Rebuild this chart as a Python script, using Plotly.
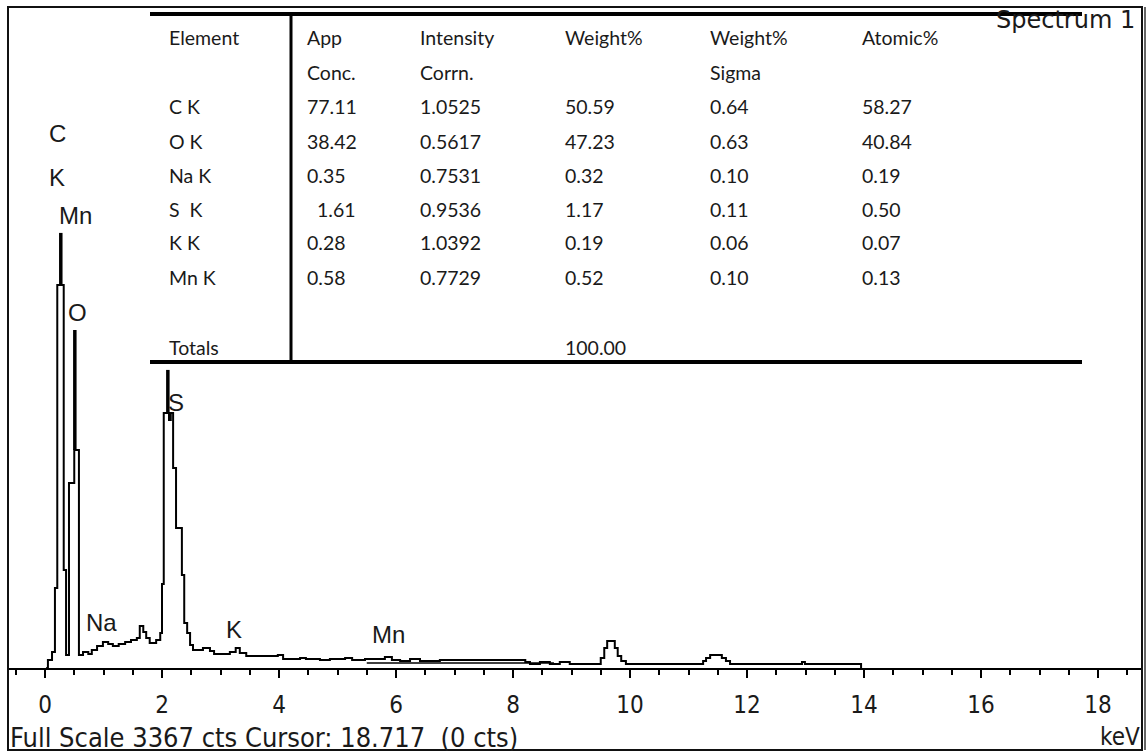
import plotly.graph_objects as go

W, H = 1147, 756

# ---------------- spectrum data (keV, counts) ----------------
energy_kev = [0.02, 0.05, 0.12, 0.17, 0.21, 0.32, 0.36, 0.41, 0.50, 0.58,
              0.65, 0.74, 0.80, 0.89, 0.99, 1.08, 1.16, 1.26, 1.37, 1.47,
              1.57, 1.62, 1.68, 1.73, 1.79, 1.90, 1.97, 2.00, 2.03, 2.12,
              2.15, 2.19, 2.24, 2.34, 2.38, 2.43, 2.48, 2.53, 2.70, 2.82,
              2.89, 3.16, 3.26, 3.33, 3.44, 3.61, 3.98, 4.07, 4.36, 4.46,
              4.70, 4.87, 5.13, 5.25, 5.47, 5.81, 5.93, 6.07, 6.24, 6.41,
              6.75, 7.44, 8.21, 8.29, 8.46, 8.63, 8.80, 8.97, 9.45, 9.50,
              9.56, 9.61, 9.69, 9.74, 9.79, 9.85, 9.93, 11.20, 11.25, 11.30,
              11.37, 11.50, 11.57, 11.64, 11.71, 12.91, 12.94, 12.99, 13.93, 13.95]
counts = [0, 41, 82, 409, 1957, 501, 66, 945, 1114, 66,
          82, 72, 92, 112, 133, 123, 112, 123, 133, 143,
          153, 215, 184, 153, 128, 143, 179, 429, 1303, 1267,
          1303, 1022, 715, 475, 230, 179, 118, 92, 102, 87,
          72, 82, 102, 77, 61, 61, 66, 46, 51, 46,
          41, 46, 51, 41, 46, 56, 41, 36, 46, 36,
          41, 41, 31, 20, 31, 20, 31, 20, 20, 51,
          102, 138, 138, 102, 61, 36, 20, 20, 36, 51,
          66, 66, 51, 36, 20, 20, 31, 20, 20, 0]

# lower (background) line drawn under the spectrum between ~5.5 and 8.7 keV
bg_kev = [5.50, 8.70]
bg_counts = [26, 26]

# element line markers (keV, base counts, top counts)
marker_kev = [0.27, 0.51, 2.10]
marker_base = [1957, 1114, 1303]
marker_top = [2223, 1727, 1523]

# peak labels (text, keV of left edge, counts)
peak_labels = ["C", "K", "Mn", "O", "S", "Na", "K", "Mn"]
peak_label_kev = [0.03, 0.03, 0.21, 0.36, 2.07, 0.67, 3.06, 5.56]
peak_label_cts = [2729, 2504, 2310, 1814, 1359, 235, 199, 169]

# ---------------- quantification table ----------------
table_header1 = ["Element", "App", "Intensity", "Weight%", "Weight%", "Atomic%"]
table_header2 = ["", "Conc.", "Corrn.", "", "Sigma", ""]
elements = ["C K", "O K", "Na K", "S  K", "K K", "Mn K"]
app_conc = ["77.11", "38.42", "0.35", "  1.61", "0.28", "0.58"]
intensity_corrn = ["1.0525", "0.5617", "0.7531", "0.9536", "1.0392", "0.7729"]
weight_pct = ["50.59", "47.23", "0.32", "1.17", "0.19", "0.52"]
weight_sigma = ["0.64", "0.63", "0.10", "0.11", "0.06", "0.10"]
atomic_pct = ["58.27", "40.84", "0.19", "0.50", "0.07", "0.13"]
totals_label = "Totals"
totals_value = "100.00"

X0_PX, X_PER_KEV = 45.0, 58.5
Y_AXIS_PX, Y_TOP_PX = 668, 9
FULL_SCALE = 3367


def px_x(px):
    return px / W


def px_y(py):
    return 1 - py / H


fig = go.Figure()

fig.add_trace(go.Scatter(x=bg_kev, y=bg_counts, mode="lines",
                         line=dict(color="black", width=1.5),
                         hoverinfo="skip", showlegend=False))
fig.add_trace(go.Scatter(x=energy_kev, y=counts, mode="lines",
                         line=dict(color="black", width=2, shape="hv"),
                         hoverinfo="skip", showlegend=False))
for k, b, t in zip(marker_kev, marker_base, marker_top):
    fig.add_trace(go.Scatter(x=[k, k], y=[b, t], mode="lines",
                             line=dict(color="black", width=3.5),
                             hoverinfo="skip", showlegend=False))

label_font = dict(family="Liberation Sans, Arial, sans-serif", size=24, color="#1a1a1a")
annotations = []
for txt, kx, cy in zip(peak_labels, peak_label_kev, peak_label_cts):
    annotations.append(dict(x=kx, y=cy, xref="x", yref="y", text=txt,
                            showarrow=False, xanchor="left", yanchor="middle",
                            font=label_font))

# table text
tfont = dict(family="Lato, Open Sans, sans-serif", size=19.5, color="#1a1a1a")
col_px = [167, 305, 418, 563, 708, 860]
row_px = [38, 73, 107, 141, 175, 209, 243, 277]
columns = [elements, app_conc, intensity_corrn, weight_pct, weight_sigma, atomic_pct]
for ci, cx in enumerate(col_px):
    cells = [table_header1[ci], table_header2[ci]] + columns[ci]
    for ri, txt in enumerate(cells):
        if not txt:
            continue
        annotations.append(dict(x=px_x(cx), y=px_y(row_px[ri]), xref="paper", yref="paper",
                                text=txt.replace(" ", "&nbsp;"), showarrow=False,
                                xanchor="left", yanchor="middle", font=tfont))
annotations.append(dict(x=px_x(167), y=px_y(347), xref="paper", yref="paper",
                        text=totals_label, showarrow=False, xanchor="left",
                        yanchor="middle", font=tfont))
annotations.append(dict(x=px_x(563), y=px_y(347), xref="paper", yref="paper",
                        text=totals_value, showarrow=False, xanchor="left",
                        yanchor="middle", font=tfont))

annotations.append(dict(x=px_x(1137), y=px_y(20), xref="paper", yref="paper",
                        text="Spectrum 1", showarrow=False, xanchor="right",
                        yanchor="middle",
                        font=dict(family="DejaVu Sans, sans-serif", size=24, color="#1a1a1a")))

narrow = "Liberation Sans Narrow, DejaVu Sans Condensed, Arial Narrow, Liberation Sans, sans-serif"
annotations.append(dict(x=px_x(8), y=px_y(737), xref="paper", yref="paper",
                        text="Full Scale 3367 cts Cursor: 18.717&nbsp;&nbsp;(0 cts)",
                        showarrow=False, xanchor="left", yanchor="middle",
                        font=dict(family=narrow, size=27, color="#1a1a1a")))
annotations.append(dict(x=px_x(1142), y=px_y(737), xref="paper", yref="paper",
                        text="keV", showarrow=False, xanchor="right", yanchor="middle",
                        font=dict(family=narrow, size=24, color="#1a1a1a")))

shapes = [
    # outer frame
    dict(type="rect", xref="paper", yref="paper", x0=px_x(8), x1=px_x(1142),
         y0=px_y(750), y1=px_y(7), line=dict(color="#111", width=2)),
    dict(type="line", xref="paper", yref="paper", x0=px_x(1145), x1=px_x(1145),
         y0=px_y(750), y1=px_y(7), line=dict(color="#333", width=1.5)),
    # table rules
    dict(type="line", xref="paper", yref="paper", x0=px_x(150), x1=px_x(1082),
         y0=px_y(14), y1=px_y(14), line=dict(color="black", width=4)),
    dict(type="line", xref="paper", yref="paper", x0=px_x(150), x1=px_x(1082),
         y0=px_y(362), y1=px_y(362), line=dict(color="black", width=4)),
    dict(type="line", xref="paper", yref="paper", x0=px_x(291), x1=px_x(291),
         y0=px_y(14), y1=px_y(362), line=dict(color="black", width=3)),
]

x_lo = (8 - X0_PX) / X_PER_KEV
x_hi = (1142 - X0_PX) / X_PER_KEV

fig.update_layout(
    width=W, height=H,
    margin=dict(l=0, r=0, t=0, b=0),
    paper_bgcolor="white", plot_bgcolor="white",
    showlegend=False,
    annotations=annotations,
    shapes=shapes,
    xaxis=dict(domain=[px_x(8), px_x(1142)], range=[x_lo, x_hi],
               showgrid=False, zeroline=False,
               showline=True, linecolor="black", linewidth=2,
               ticks="outside", ticklen=8, tickwidth=2, tickcolor="black",
               tickmode="linear", tick0=0, dtick=2,
               ticklabelstandoff=6,
               tickfont=dict(family=narrow, size=24, color="#1a1a1a"),
               minor=dict(ticks="outside", dtick=0.5, tick0=0, ticklen=5,
                          tickwidth=1.5, tickcolor="black", showgrid=False)),
    yaxis=dict(domain=[1 - Y_AXIS_PX / H, 1 - Y_TOP_PX / H], range=[0, FULL_SCALE],
               visible=False, showgrid=False, zeroline=False),
)

fig.write_html("out.html", config={"displayModeBar": False},
               post_script="document.body.style.margin='0';")
